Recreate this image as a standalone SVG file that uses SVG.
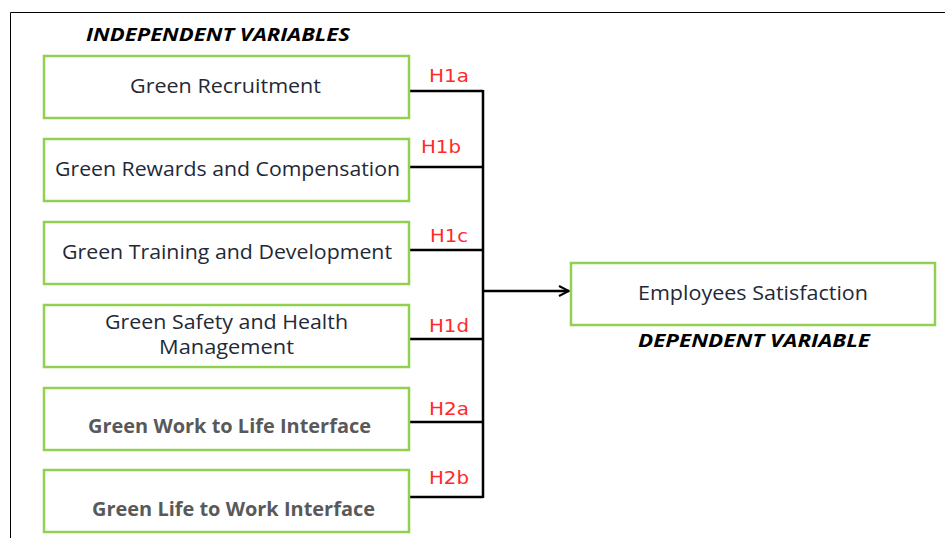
<svg xmlns="http://www.w3.org/2000/svg" width="945" height="538" viewBox="0 0 945 538">
<defs>
<style>
.box{fill:#fff;stroke:#92d050;stroke-width:2.5}
.t{font-family:"Open Sans","Liberation Sans",sans-serif;font-size:20px;fill:#1f2937;text-anchor:middle}
.tb{font-family:"Open Sans","Liberation Sans",sans-serif;font-size:20px;font-weight:bold;fill:#595959;text-anchor:middle}
.h{font-family:"DejaVu Sans",sans-serif;font-size:18px;fill:#ff2a2a;text-anchor:middle}
.head{font-family:"Open Sans","Liberation Sans",sans-serif;font-size:17px;font-weight:bold;font-style:italic;fill:#000;text-anchor:middle}
.ln{stroke:#000;stroke-width:2.5;fill:none}
</style>
<marker id="arr" viewBox="0 0 12 12" refX="11" refY="6" markerWidth="12" markerHeight="12" markerUnits="userSpaceOnUse" orient="auto">
<path d="M1,1 L11,6 L1,11" fill="none" stroke="#000" stroke-width="2"/>
</marker>
</defs>
<rect width="945" height="538" fill="#fff"/>
<path d="M10.5,538 V12.5 H945" fill="none" stroke="#000" stroke-width="1"/>
<text class="head" x="218" y="41" textLength="264" lengthAdjust="spacingAndGlyphs">INDEPENDENT VARIABLES</text>
<text class="head" x="754" y="347" textLength="232" lengthAdjust="spacingAndGlyphs">DEPENDENT VARIABLE</text>
<g id="connectors">
<path class="ln" d="M409,91 H483 M409,167 H483 M409,250 H483 M409,339 H483 M409,422 H483 M409,497 H483 M483,90 V498"/>
<path class="ln" d="M483,291 H569" marker-end="url(#arr)"/>
<text class="h" x="449" y="82" textLength="40" lengthAdjust="spacingAndGlyphs">H1a</text>
<text class="h" x="441" y="153" textLength="40" lengthAdjust="spacingAndGlyphs">H1b</text>
<text class="h" x="449" y="242" textLength="38" lengthAdjust="spacingAndGlyphs">H1c</text>
<text class="h" x="449" y="332" textLength="40" lengthAdjust="spacingAndGlyphs">H1d</text>
<text class="h" x="449" y="415" textLength="40" lengthAdjust="spacingAndGlyphs">H2a</text>
<text class="h" x="449" y="484" textLength="40" lengthAdjust="spacingAndGlyphs">H2b</text>
</g>
<g id="n1"><rect class="box" x="44" y="56" width="365" height="62"/><text class="t" x="225.5" y="93" textLength="191" lengthAdjust="spacingAndGlyphs">Green Recruitment</text></g>
<g id="n2"><rect class="box" x="44" y="139" width="365" height="62"/><text class="t" x="227.5" y="176" textLength="345" lengthAdjust="spacingAndGlyphs">Green Rewards and Compensation</text></g>
<g id="n3"><rect class="box" x="44" y="222" width="365" height="62"/><text class="t" x="227" y="259" textLength="330" lengthAdjust="spacingAndGlyphs">Green Training and Development</text></g>
<g id="n4"><rect class="box" x="44" y="305" width="365" height="62"/><text class="t" x="226.5" y="329" textLength="243" lengthAdjust="spacingAndGlyphs">Green Safety and Health</text><text class="t" x="226.5" y="354" textLength="135" lengthAdjust="spacingAndGlyphs">Management</text></g>
<g id="n5"><rect class="box" x="44" y="388" width="365" height="62"/><text class="tb" x="229.5" y="433" textLength="283" lengthAdjust="spacingAndGlyphs">Green Work to Life Interface</text></g>
<g id="n6"><rect class="box" x="44" y="470" width="365" height="62"/><text class="tb" x="233.5" y="516" textLength="283" lengthAdjust="spacingAndGlyphs">Green Life to Work Interface</text></g>
<g id="n7"><rect class="box" x="571" y="263" width="364" height="62"/><text class="t" x="753" y="300" textLength="230" lengthAdjust="spacingAndGlyphs">Employees Satisfaction</text></g>
</svg>
